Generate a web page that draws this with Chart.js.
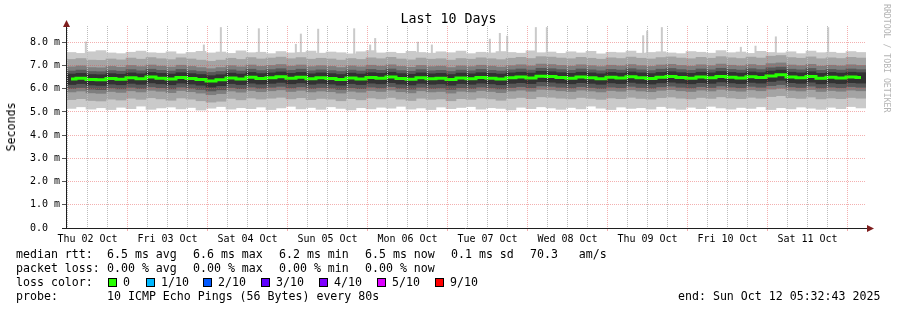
<!DOCTYPE html>
<html>
<head>
<meta charset="utf-8">
<script src="https://cdn.jsdelivr.net/npm/chart.js@4/dist/chart.umd.min.js"></script>
<style>
  body { margin: 0; background: #fff; }
  #wrap { position: relative; width: 897px; height: 310px; font-family: "DejaVu Sans Mono", monospace; color: #000; overflow: hidden; }
  #wrap canvas { position: absolute; left: 0; top: 0; }
  .t { position: absolute; white-space: pre; font-size: 11.6px; line-height: 14px; }
  .title { position: absolute; left: 0; width: 897px; top: 12px; text-align: center; font-size: 13.3px; line-height: 14px; white-space: pre; }
  .ylab { position: absolute; left: 11px; top: 127px; transform: translate(-50%, -50%) rotate(-90deg); font-size: 11.6px; white-space: pre; }
  .wm { position: absolute; left: 882px; top: 4px; writing-mode: vertical-rl; font-size: 8.2px; color: #b4b4b4; white-space: pre; }
  .box { position: absolute; width: 7px; height: 7px; border: 1px solid #000; }
</style>
</head>
<body>
<div id="wrap">
  <canvas id="smoke" width="897" height="310"></canvas>
  <div class="title">Last 10 Days</div>
  <div class="ylab">Seconds</div>
  <div class="wm">RRDTOOL / TOBI OETIKER</div>

  <div class="t" style="left:16px;top:247px">median rtt:</div>
  <div class="t" style="left:107px;top:247px">6.5 ms avg</div>
  <div class="t" style="left:193px;top:247px">6.6 ms max</div>
  <div class="t" style="left:279px;top:247px">6.2 ms min</div>
  <div class="t" style="left:365px;top:247px">6.5 ms now</div>
  <div class="t" style="left:451px;top:247px">0.1 ms sd</div>
  <div class="t" style="left:530px;top:247px">70.3   am/s</div>

  <div class="t" style="left:16px;top:261px">packet loss:</div>
  <div class="t" style="left:107px;top:261px">0.00 % avg</div>
  <div class="t" style="left:193px;top:261px">0.00 % max</div>
  <div class="t" style="left:279px;top:261px">0.00 % min</div>
  <div class="t" style="left:365px;top:261px">0.00 % now</div>

  <div class="t" style="left:16px;top:275px">loss color:</div>
  <div id="losslegend"></div>

  <div class="t" style="left:16px;top:289px">probe:</div>
  <div class="t" style="left:107px;top:289px">10 ICMP Echo Pings (56 Bytes) every 80s</div>
  <div class="t" style="left:678px;top:289px">end: Sun Oct 12 05:32:43 2025</div>
</div>
<script>
// --- time frame (hours since Thu 02 Oct 00:00) ---
const START_HOUR = 5.545;   // 05:32:43
const END_HOUR = 245.545;   // Sun 12 Oct 05:32:43
const COL_HOURS = 3;        // one smoke column = 3 h

const DAY_LABELS = ['Thu 02 Oct', 'Fri 03 Oct', 'Sat 04 Oct', 'Sun 05 Oct', 'Mon 06 Oct',
                    'Tue 07 Oct', 'Wed 08 Oct', 'Thu 09 Oct', 'Fri 10 Oct', 'Sat 11 Oct'];
const Y_TICKS = [0, 0.5, 1, 1.5, 2, 2.5, 3, 3.5, 4, 4.5, 5, 5.5, 6, 6.5, 7, 7.5, 8, 8.5];

const LOSS_LEVELS = ['0', '1/10', '2/10', '3/10', '4/10', '5/10', '9/10'];
const LOSS_COLORS = ['#26ff00', '#00b8ff', '#0059ff', '#5e00ff', '#7e00ff', '#dd00ff', '#ff0000'];

// --- sorted pings per column (ms), p1 = fastest ... p10 = slowest ---
const P1 = [5.15,5.22,5.12,5.18,5.10,5.20,5.14,5.25,5.11,5.17,5.21,5.13,5.19,5.08,5.16,5.23,5.12,5.18,5.14,5.21,
            5.10,5.17,5.24,5.13,5.19,5.11,5.22,5.15,5.09,5.18,5.13,5.20,5.16,5.24,5.12,5.17,5.10,5.21,5.14,5.19,
            5.23,5.12,5.18,5.15,5.09,5.20,5.14,5.22,5.17,5.11,5.19,5.13,5.25,5.16,5.10,5.21,5.15,5.18,5.12,5.23,
            5.16,5.11,5.20,5.14,5.24,5.17,5.12,5.19,5.15,5.22,5.10,5.18,5.13,5.21,5.16,5.11,5.20,5.14,5.23,5.17];
const P2 = [5.53,5.57,5.49,5.47,5.55,5.51,5.59,5.54,5.61,5.56,5.50,5.60,5.55,5.48,5.42,5.46,5.58,5.52,5.60,5.55,
            5.59,5.63,5.56,5.61,5.53,5.58,5.55,5.48,5.57,5.52,5.60,5.56,5.62,5.55,5.49,5.59,5.54,5.56,5.48,5.57,
            5.54,5.60,5.56,5.50,5.58,5.62,5.57,5.65,5.63,5.59,5.56,5.62,5.58,5.54,5.60,5.57,5.63,5.58,5.55,5.61,
            5.64,5.59,5.56,5.62,5.58,5.65,5.60,5.57,5.63,5.59,5.66,5.70,5.61,5.58,5.64,5.56,5.60,5.57,5.62,5.59];
const P3 = [5.86,5.90,5.82,5.80,5.88,5.84,5.91,5.86,5.93,5.89,5.83,5.92,5.87,5.81,5.74,5.79,5.90,5.85,5.92,5.87,
            5.91,5.95,5.88,5.93,5.86,5.90,5.87,5.81,5.89,5.85,5.92,5.88,5.94,5.87,5.82,5.91,5.86,5.88,5.81,5.89,
            5.86,5.92,5.88,5.83,5.90,5.94,5.89,5.97,5.95,5.91,5.88,5.94,5.90,5.86,5.92,5.89,5.95,5.90,5.87,5.93,
            5.96,5.91,5.88,5.94,5.90,5.97,5.92,5.89,5.95,5.91,5.98,6.02,5.93,5.90,5.96,5.88,5.92,5.89,5.94,5.91];
const P4 = [6.01,6.05,5.98,5.96,6.03,5.99,6.06,6.01,6.08,6.04,5.99,6.07,6.02,5.97,5.90,5.95,6.05,6.00,6.07,6.02,
            6.06,6.10,6.03,6.08,6.01,6.05,6.02,5.97,6.04,6.00,6.07,6.03,6.09,6.02,5.98,6.06,6.01,6.03,5.97,6.04,
            6.01,6.07,6.03,5.99,6.05,6.09,6.04,6.12,6.10,6.06,6.03,6.09,6.05,6.01,6.07,6.04,6.10,6.05,6.02,6.08,
            6.11,6.06,6.03,6.09,6.05,6.12,6.07,6.04,6.10,6.06,6.13,6.18,6.08,6.05,6.11,6.03,6.07,6.04,6.09,6.06];
const P5 = [6.18,6.22,6.16,6.14,6.20,6.17,6.23,6.19,6.25,6.21,6.17,6.24,6.20,6.15,6.07,6.13,6.22,6.18,6.24,6.20,
            6.23,6.27,6.21,6.25,6.19,6.23,6.20,6.15,6.22,6.18,6.24,6.21,6.26,6.20,6.16,6.23,6.19,6.21,6.15,6.22,
            6.19,6.24,6.21,6.17,6.23,6.26,6.22,6.30,6.28,6.24,6.21,6.26,6.23,6.19,6.25,6.22,6.27,6.23,6.20,6.25,
            6.28,6.24,6.21,6.26,6.23,6.29,6.25,6.22,6.27,6.24,6.31,6.36,6.26,6.23,6.28,6.21,6.25,6.22,6.26,6.24];
const MEDIAN = [6.42,6.45,6.40,6.38,6.44,6.41,6.47,6.43,6.50,6.45,6.42,6.48,6.44,6.40,6.33,6.38,6.46,6.42,6.49,6.44,
            6.47,6.51,6.45,6.49,6.43,6.47,6.44,6.40,6.46,6.42,6.48,6.45,6.50,6.44,6.41,6.47,6.43,6.45,6.40,6.46,
            6.43,6.48,6.45,6.42,6.47,6.50,6.46,6.54,6.52,6.48,6.45,6.50,6.47,6.43,6.49,6.46,6.51,6.47,6.44,6.49,
            6.52,6.48,6.45,6.50,6.47,6.53,6.49,6.46,6.51,6.48,6.55,6.60,6.50,6.47,6.52,6.45,6.49,6.46,6.50,6.48];
const P6 = [6.63,6.66,6.61,6.60,6.65,6.62,6.68,6.64,6.70,6.66,6.63,6.69,6.65,6.61,6.56,6.60,6.67,6.63,6.70,6.65,
            6.68,6.72,6.66,6.70,6.64,6.68,6.65,6.61,6.67,6.63,6.69,6.66,6.71,6.65,6.62,6.68,6.64,6.66,6.61,6.67,
            6.64,6.69,6.66,6.63,6.68,6.71,6.67,6.75,6.73,6.69,6.66,6.71,6.68,6.64,6.70,6.67,6.72,6.68,6.65,6.70,
            6.73,6.69,6.66,6.71,6.68,6.74,6.70,6.67,6.72,6.69,6.76,6.80,6.71,6.68,6.73,6.66,6.70,6.67,6.71,6.69];
const P7 = [6.76,6.80,6.74,6.73,6.78,6.75,6.82,6.77,6.84,6.79,6.76,6.83,6.78,6.74,6.70,6.74,6.81,6.76,6.84,6.78,
            6.82,6.86,6.79,6.84,6.77,6.81,6.78,6.74,6.80,6.76,6.83,6.79,6.85,6.78,6.75,6.82,6.77,6.79,6.74,6.80,
            6.77,6.83,6.79,6.76,6.81,6.85,6.80,6.88,6.86,6.82,6.79,6.85,6.81,6.77,6.83,6.80,6.86,6.81,6.78,6.84,
            6.87,6.82,6.79,6.85,6.81,6.88,6.83,6.80,6.86,6.82,6.90,6.93,6.84,6.81,6.87,6.79,6.83,6.80,6.85,6.82];
const P8 = [6.94,6.98,6.91,6.90,6.96,6.92,7.00,6.95,7.02,6.97,6.93,7.01,6.96,6.91,6.86,6.91,6.99,6.94,7.02,6.96,
            7.00,7.04,6.97,7.02,6.95,6.99,6.96,6.91,6.98,6.94,7.01,6.97,7.03,6.96,6.92,7.00,6.95,6.97,6.91,6.98,
            6.95,7.01,6.97,6.93,6.99,7.03,6.98,7.06,7.04,7.00,6.97,7.03,6.99,6.95,7.01,6.98,7.04,6.99,6.96,7.02,
            7.05,7.00,6.97,7.03,6.99,7.06,7.01,6.98,7.04,7.00,7.08,7.11,7.02,6.99,7.05,6.97,7.01,6.98,7.03,7.00];
const P9 = [7.26,7.30,7.23,7.22,7.28,7.24,7.32,7.27,7.34,7.29,7.25,7.33,7.28,7.23,7.18,7.23,7.31,7.26,7.34,7.28,
            7.32,7.36,7.29,7.34,7.27,7.31,7.28,7.23,7.30,7.26,7.33,7.29,7.35,7.28,7.24,7.32,7.27,7.29,7.23,7.30,
            7.27,7.33,7.29,7.25,7.31,7.35,7.30,7.38,7.36,7.32,7.29,7.35,7.31,7.27,7.33,7.30,7.36,7.31,7.28,7.34,
            7.37,7.32,7.29,7.35,7.31,7.38,7.33,7.30,7.36,7.32,7.40,7.43,7.34,7.31,7.37,7.29,7.33,7.30,7.35,7.32];
const P10 = [7.56,7.52,7.59,7.64,7.54,7.51,7.57,7.62,7.55,7.53,7.59,7.50,7.56,7.61,7.54,7.58,7.52,7.63,7.55,7.57,
            7.51,7.60,7.54,7.56,7.62,7.53,7.58,7.55,7.50,7.59,7.64,7.54,7.57,7.52,7.61,7.56,7.53,7.59,7.55,7.62,
            7.51,7.57,7.54,7.60,7.56,7.53,7.63,7.55,7.58,7.52,7.59,7.54,7.61,7.50,7.57,7.55,7.62,7.53,7.56,7.59,
            7.54,7.51,7.60,7.57,7.53,7.64,7.55,7.58,7.52,7.61,7.56,7.54,7.59,7.51,7.62,7.55,7.57,7.53,7.60,7.56];

// single slow outliers sticking out of the smoke
const SPIKE_HOURS = [11.5, 46.9, 52.0, 63.4, 74.5, 76.0, 81.2, 92.0, 96.8, 98.3, 111.1, 115.3,
                     132.7, 135.7, 137.9, 146.5, 149.8, 178.7, 179.9, 184.3, 208.0, 212.4, 218.5, 234.2];
const SPIKE_TOPS = [8.03, 7.90, 8.65, 8.60, 7.93, 8.37, 8.58, 8.60, 7.90, 8.18, 8.02, 7.90,
                    8.15, 8.40, 8.28, 8.65, 8.65, 8.30, 8.50, 8.65, 7.80, 7.85, 8.25, 8.65];

const GRID = '#bdbdbd';
const MGRID = 'rgba(229, 80, 80, 0.45)';
const FONT = '"DejaVu Sans Mono", monospace';

// --- loss colour legend ---
const lossBoxX = [108, 146, 203, 261, 319, 377, 435];
const lossLegend = document.getElementById('losslegend');
LOSS_LEVELS.forEach((lvl, i) => {
    const b = document.createElement('div');
    b.className = 'box';
    b.style.left = lossBoxX[i] + 'px';
    b.style.top = '278px';
    b.style.background = LOSS_COLORS[i];
    lossLegend.appendChild(b);
    const t = document.createElement('div');
    t.className = 't';
    t.style.left = (lossBoxX[i] + 15) + 'px';
    t.style.top = '275px';
    t.textContent = lvl;
    lossLegend.appendChild(t);
});

const colHour = i => START_HOUR + COL_HOURS * (i + 0.5);

function smokeLayer(lo, hi, color) {
    return {
        type: 'bar', xAxisID: 'x',
        data: lo.map((v, i) => ({ x: colHour(i), y: [v, hi[i]] })),
        backgroundColor: color, borderWidth: 0,
        grouped: false, barPercentage: 1, categoryPercentage: 1
    };
}

// axes + arrows like rrdtool
const axisPlugin = {
    id: 'rrdAxis',
    afterDraw(chart) {
        const { ctx, chartArea: a } = chart;
        ctx.save();
        ctx.strokeStyle = '#1f1f1f';
        ctx.lineWidth = 1;
        ctx.beginPath();
        ctx.moveTo(a.left + 0.5, a.bottom + 0.5);
        ctx.lineTo(a.left + 0.5, a.top - 3);
        ctx.moveTo(a.left - 4, a.bottom + 0.5);
        ctx.lineTo(a.right + 3, a.bottom + 0.5);
        ctx.stroke();
        ctx.fillStyle = '#7f1f1f';
        ctx.beginPath();
        ctx.moveTo(a.left + 0.5, a.top - 6);
        ctx.lineTo(a.left - 3, a.top + 1);
        ctx.lineTo(a.left + 4, a.top + 1);
        ctx.closePath();
        ctx.fill();
        ctx.beginPath();
        ctx.moveTo(a.right + 8, a.bottom + 0.5);
        ctx.lineTo(a.right + 1, a.bottom - 3);
        ctx.lineTo(a.right + 1, a.bottom + 4);
        ctx.closePath();
        ctx.fill();
        ctx.restore();
    }
};

const xTicks = [];
for (let h = 6; h <= 240; h += 6) xTicks.push(h);

new Chart(document.getElementById('smoke'), {
    type: 'bar',
    data: {
        datasets: [
            {
                type: 'line', xAxisID: 'x',
                data: MEDIAN.map((v, i) => ({ x: colHour(i), y: v })),
                borderColor: '#26ff00', borderWidth: 3, pointRadius: 0,
                stepped: 'middle', fill: false
            },
            smokeLayer(P5, P6, '#323232'),
            smokeLayer(P4, P7, '#585858'),
            smokeLayer(P3, P8, '#7e7e7e'),
            smokeLayer(P2, P9, '#a4a4a4'),
            smokeLayer(P1, P10, '#cacaca'),
            {
                type: 'bar', xAxisID: 'xs',
                data: SPIKE_HOURS.map((h, i) => ({ x: h, y: [7.3, SPIKE_TOPS[i]] })),
                backgroundColor: '#cacaca', borderWidth: 0,
                grouped: false, barPercentage: 1, maxBarThickness: 2
            }
        ]
    },
    options: {
        responsive: false,
        devicePixelRatio: 1,
        animation: false,
        layout: { padding: { left: 30, right: 31, top: 26, bottom: 62 } },
        plugins: { legend: { display: false }, tooltip: { enabled: false }, title: { display: false } },
        scales: {
            x: {
                type: 'linear', position: 'bottom', min: START_HOUR, max: END_HOUR, offset: false,
                afterBuildTicks: s => { s.ticks = xTicks.map(v => ({ value: v })); },
                afterFit: s => { s.height = 20; },
                grid: {
                    offset: false, z: 1, lineWidth: 1, tickLength: 3,
                    color: c => (c.tick && c.tick.value % 24 === 0) ? MGRID : GRID,
                    tickColor: c => (c.tick && c.tick.value % 24 === 0) ? MGRID : 'rgba(0,0,0,0)'
                },
                border: { display: false, dash: [1, 1] },
                ticks: {
                    autoSkip: false, maxRotation: 0, minRotation: 0, padding: 2, color: '#000',
                    font: { family: FONT, size: 10 },
                    callback: v => (v % 24 === 12) ? DAY_LABELS[(v - 12) / 24] : ''
                }
            },
            xs: {
                type: 'linear', position: 'bottom', display: false, min: START_HOUR, max: END_HOUR, offset: false,
                grid: { offset: false }
            },
            y: {
                type: 'linear', min: 0, max: 8.7,
                afterBuildTicks: s => { s.ticks = Y_TICKS.map(v => ({ value: v })); },
                afterFit: s => { s.width = 36; },
                grid: {
                    z: 1, lineWidth: 1, tickLength: 4,
                    color: c => (c.tick && c.tick.value % 1 === 0) ? MGRID : GRID,
                    tickColor: c => (c.tick && c.tick.value % 1 === 0) ? '#555' : '#bbb'
                },
                border: { display: false, dash: [1, 1] },
                ticks: {
                    crossAlign: 'far', color: '#000',
                    font: { family: FONT, size: 10 },
                    callback: v => (v % 1 === 0) ? (v === 0 ? '0.0' : v.toFixed(1) + ' m') : ''
                }
            }
        }
    },
    plugins: [axisPlugin]
});
</script>
</body>
</html>
